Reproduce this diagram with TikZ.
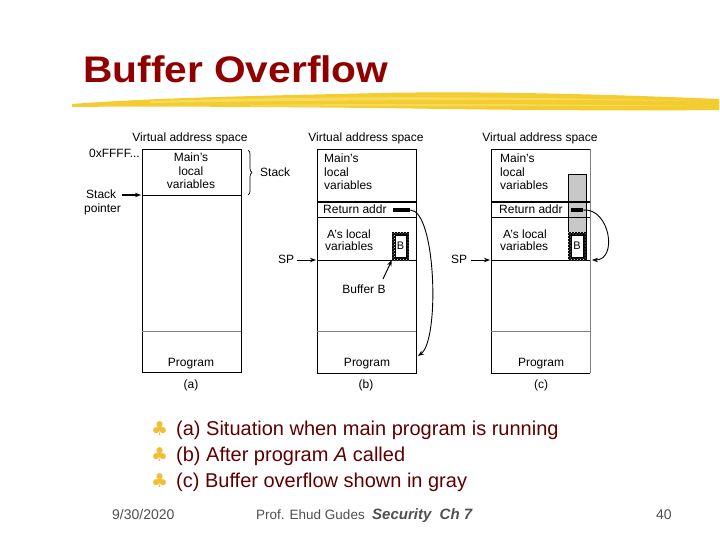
\documentclass[tikz,border=0pt]{standalone}
\usepackage{fontspec}
\setmainfont{Liberation Sans}
\newfontfamily\djv{DejaVu Sans}
\usetikzlibrary{arrows.meta,patterns,decorations.pathreplacing}
\definecolor{titlered}{RGB}{145,0,0}
\definecolor{textred}{RGB}{95,0,0}
\definecolor{clubyellow}{RGB}{240,190,55}
\definecolor{brushA}{RGB}{243,204,48}
\definecolor{brushB}{RGB}{250,226,110}
\definecolor{footgray}{RGB}{80,80,80}
\definecolor{colgray}{RGB}{200,200,200}
\begin{document}
\begin{tikzpicture}[x=1pt,y=-1pt,
  lbl/.style={font=\fontsize{12}{13}\selectfont, inner sep=0pt},
  lblb/.style={lbl, anchor=base},
  lblw/.style={lbl, anchor=base west},
  box/.style={draw=black, line width=0.9pt},
  sep/.style={draw=black, line width=0.9pt},
  sepg/.style={draw=gray, line width=0.9pt},
  arr/.style={draw=black, line width=0.9pt, -{Stealth[length=6pt,width=4.5pt]}},
  bullet/.style={font=\fontsize{20}{22}\selectfont, text=textred, anchor=base west, inner sep=0pt},
  club/.style={font=\djv\fontsize{19}{22}\selectfont, text=clubyellow, anchor=base west, inner sep=0pt},
  foot/.style={font=\fontsize{13.5}{15}\selectfont, text=footgray, anchor=base west, inner sep=0pt},
  bletter/.style={inner sep=0pt, font=\fontsize{11}{12}\selectfont}
]
\useasboundingbox[fill=white] (0,0) rectangle (720,540);

% ---------- title ----------
\node[anchor=base west, inner sep=0pt, text=titlered, font=\fontsize{37}{40}\selectfont\bfseries, xscale=1.1] (title) at (83,83) {Buffer Overflow};
\fill[brushA] (72,104) .. controls (150,98) and (250,96) .. (380,93)
  .. controls (480,91) and (600,94) .. (719,99) -- (719,110)
  .. controls (620,111) and (500,110) .. (380,108)
  .. controls (260,107) and (150,106) .. (72,107) -- cycle;
\fill[brushB, opacity=0.7] (150,101) .. controls (300,97) and (450,95) .. (700,101)
  .. controls (500,99) and (320,100) .. (150,103) -- cycle;
\fill[brushB, opacity=0.6] (250,105) .. controls (400,103) and (550,104) .. (710,106)
  .. controls (550,106) and (400,106) .. (250,106.5) -- cycle;

% ---------- diagram (a) ----------
\node[lblb] (vasa) at (190,142) {Virtual address space};
\draw[box] (142,149) rectangle (241,372);
\draw[sep] (142,195) -- (241,195);
\draw[sepg] (142,331) -- (241,331);
\node[lblb] (maina1) at (191,162) {Main's};
\node[lblb] (maina2) at (191,176) {local};
\node[lblb] (maina3) at (191,189) {variables};
\node[lblb] (proga) at (191,366) {Program};
\node[lbl] (capa) at (191,385) {(a)};
\node[lbl, anchor=base east] (ffff) at (140,158) {0xFFFF...};
\draw[line width=0.7pt, decorate, decoration={brace, amplitude=4pt}] (248,150) -- (248,195);
\node[lblw] (stack) at (260,177) {Stack};
\node[lblw] (sp1) at (86,199) {Stack};
\node[lblw] (sp2) at (84,212) {pointer};
\coordinate (spa) at (141,195);
\draw[arr, line width=1.2pt] (122,195) -- (spa);

% ---------- diagram (b) ----------
\node[lblb] (vasb) at (366,142) {Virtual address space};
\draw[box] (317,149) rectangle (416,373);
\draw[sep, line width=1.3pt] (317,202) -- (416,202);
\draw[sep] (317,217) -- (416,217);
\draw[sep] (317,260) -- (416,260);
\draw[sepg] (317,331) -- (416,331);
\node[lblw] (mainb1) at (324,163) {Main's};
\node[lblw] (mainb2) at (324,177) {local};
\node[lblw] (mainb3) at (324,190) {variables};
\node[lblw] (retb) at (323,214) {Return addr};
\node[lblw] (asb1) at (327,238) {A's local};
\node[lblw] (asb2) at (325,251) {variables};
\node[lblb] (bufb) at (364,293) {Buffer B};
\node[lblb] (progb) at (367,366) {Program};
\node[lbl] (capb) at (366,385) {(b)};
% buffer B
\fill[black] (392,232) rectangle (409,260);
\fill[pattern=crosshatch dots, pattern color=white] (392,232) rectangle (409,260);
\draw[black, fill=white, line width=0.6pt] (395,235) rectangle (406,257);
\node[bletter] (bb) at (400.5,246) {B};
\node[inner sep=0pt, minimum width=17pt, minimum height=28pt] (bufboxb) at (400.5,246) {};
\draw[arr, line width=1pt] (383,279) -- (bufboxb.south west);
% return address marker
\node[fill=black, inner sep=0pt, minimum width=17pt, minimum height=3.5pt] (markb) at (401.5,210) {};
\coordinate (progbend) at (418,356);
\draw[arr] (markb.east) .. controls (436,210) and (440,340) .. (progbend);
% SP
\node[lblw] (spb) at (278,263) {SP};
\coordinate (spbt) at (316,260);
\draw[arr] (297,260) -- (spbt);

% ---------- diagram (c) ----------
\node[lblb] (vasc) at (540,142) {Virtual address space};
\fill[colgray] (568,174) rectangle (586,260);
\draw[black, line width=0.6pt] (568,174) rectangle (586,260);
\draw[box] (491,149) -- (491,373) -- (590,373);
\draw[box] (491,149) -- (590,149);
\draw[draw=gray, line width=0.9pt] (590,149) -- (590,373);
\draw[sep, line width=1.3pt] (491,202) -- (590,202);
\draw[sep] (491,217) -- (590,217);
\draw[sep] (491,260) -- (590,260);
\draw[sepg] (491,331) -- (590,331);
\node[lblw] (mainc1) at (500,163) {Main's};
\node[lblw] (mainc2) at (500,177) {local};
\node[lblw] (mainc3) at (500,190) {variables};
\node[lblw] (retc) at (499,214) {Return addr};
\node[lblw] (asc1) at (503,238) {A's local};
\node[lblw] (asc2) at (500,251) {variables};
\node[lblb] (progc) at (541,366) {Program};
\node[lbl] (capc) at (541,385) {(c)};
% buffer B (c)
\fill[black] (568,232) rectangle (586,260);
\fill[pattern=crosshatch dots, pattern color=white] (568,232) rectangle (586,260);
\draw[black, fill=white, line width=0.6pt] (571,235) rectangle (583,257);
\node[bletter] (bc) at (577,246) {B};
% marker (c)
\node[fill=black, inner sep=0pt, minimum width=12pt, minimum height=3.5pt] (markc) at (577,210) {};
\coordinate (spcend) at (592,260);
\draw[arr] (markc.east) .. controls (610,208) and (618,260) .. (spcend);
% SP (c)
\node[lblw] (spc) at (451,263) {SP};
\coordinate (spct) at (490,260);
\draw[arr] (471,260) -- (spct);

% ---------- bullets ----------
\node[club] (c1) at (151,435) {♣};
\node[bullet] (t1) at (176,435) {(a) Situation when main program is running};
\node[club] (c2) at (151,461) {♣};
\node[bullet] (t2) at (176,461) {(b) After program \textit{A} called};
\node[club] (c3) at (151,487) {♣};
\node[bullet] (t3) at (176,487) {(c) Buffer overflow shown in gray};

% ---------- footer ----------
\node[foot, font=\fontsize{14}{15}\selectfont] (date) at (112,519) {9/30/2020};
\node[foot] (prof) at (256,519) {Prof. Ehud Gudes};
\node[foot, font=\fontsize{15}{16}\selectfont\bfseries\itshape] (sec) at (372,519) {Security\ \ Ch 7};
\node[foot, font=\fontsize{14}{15}\selectfont] (page) at (656,519) {40};
\end{tikzpicture}
\end{document}
